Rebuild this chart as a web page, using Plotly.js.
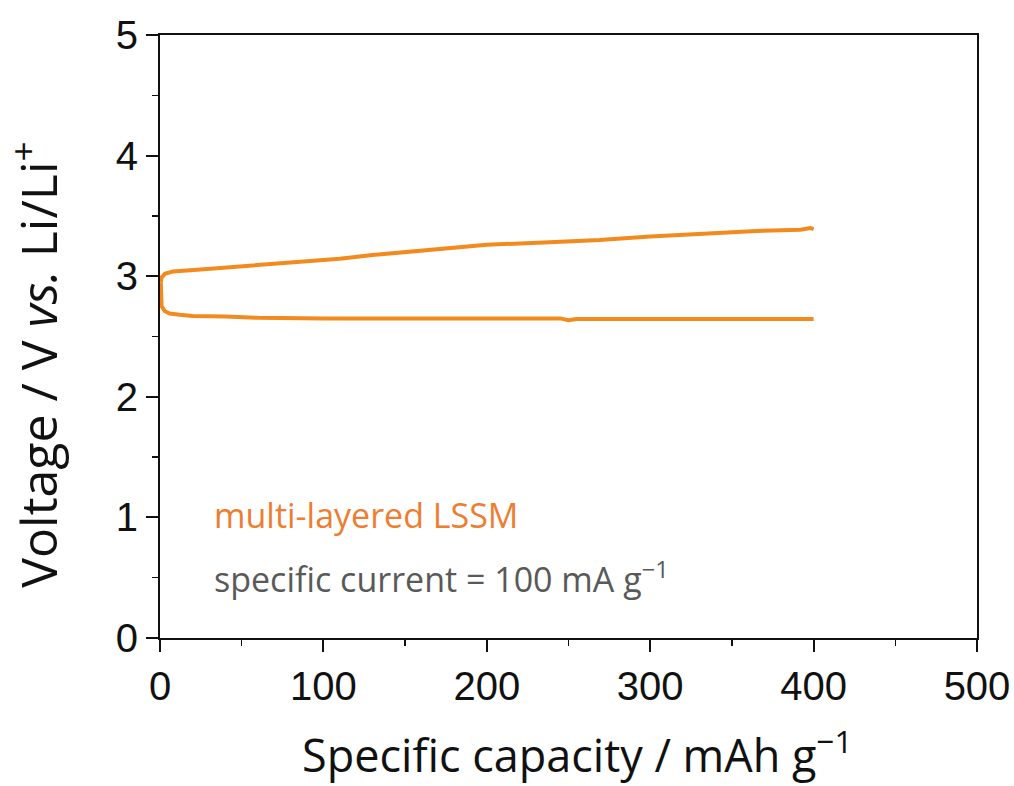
<!DOCTYPE html>
<html><head><meta charset="utf-8">
<script src="https://cdn.plot.ly/plotly-3.0.1.min.js"></script>
<style>body{margin:0;background:#fff}#c{width:1014px;height:786px}</style>
</head><body><div id="c"></div>
<script>
const dischargeCapacity = [0.5, 0.5, 1, 3, 6, 12, 20, 40, 60, 100, 150, 200, 245, 250, 255, 300, 350, 400];
const dischargeVoltage  = [2.95, 2.80, 2.75, 2.71, 2.69, 2.68, 2.67, 2.665, 2.655, 2.65, 2.65, 2.65, 2.65, 2.635, 2.645, 2.645, 2.645, 2.645];
const chargeCapacity = [0.5, 1, 3, 8, 29, 49, 69, 90, 110, 130, 151, 171, 200, 235, 269, 300, 343, 365, 392, 398, 400];
const chargeVoltage  = [2.95, 2.99, 3.02, 3.04, 3.06, 3.08, 3.10, 3.125, 3.145, 3.175, 3.20, 3.23, 3.26, 3.28, 3.30, 3.33, 3.36, 3.375, 3.385, 3.40, 3.39];
const xTicks = [0, 100, 200, 300, 400, 500];
const yTicks = [0, 1, 2, 3, 4, 5];
const xTitle = "Specific capacity / mAh g<sup>\u22121</sup>";
const yTitle = "Voltage / V <i>vs.</i> Li/Li<sup>+</sup>";
const sampleLabel = "multi-layered LSSM";
const currentLabel = "specific current = 100 mA g<sup>\u22121</sup>";

const lineColor = '#F28A1E';
const traces = [
  {x: dischargeCapacity, y: dischargeVoltage, mode: 'lines', line: {color: lineColor, width: 4}, hoverinfo: 'none'},
  {x: chargeCapacity, y: chargeVoltage, mode: 'lines', line: {color: lineColor, width: 4}, hoverinfo: 'none'}
];
const tickFont = {family: 'Liberation Sans, Arial, sans-serif', size: 40, color: '#111'};
const axisCommon = {
  showgrid: false, zeroline: false, showline: true, linecolor: '#111', linewidth: 2,
  mirror: true, ticks: 'outside', ticklen: 12, tickwidth: 2, tickcolor: '#111',
  tickfont: tickFont
};
const layout = {
  width: 1014, height: 786,
  margin: {l: 160, r: 37, t: 35, b: 148},
  paper_bgcolor: '#fff', plot_bgcolor: '#fff',
  showlegend: false,
  xaxis: Object.assign({}, axisCommon, {
    range: [0, 500], tickvals: xTicks, ticktext: xTicks.map(String),
    minor: {ticks: 'outside', ticklen: 6, tickwidth: 1.5, tickcolor: '#111', dtick: 50, tick0: 0}
  }),
  yaxis: Object.assign({}, axisCommon, {
    range: [0, 5], tickvals: yTicks, ticktext: yTicks.map(String),
    minor: {ticks: 'outside', ticklen: 6, tickwidth: 1.5, tickcolor: '#111', dtick: 0.5, tick0: 0}
  }),
  annotations: [
    {x: 0.5, y: 0, xref: 'paper', yref: 'paper', xanchor: 'center', yanchor: 'middle',
     xshift: 8, yshift: -114, showarrow: false,
     text: xTitle, font: {family: 'Open Sans, sans-serif', size: 45, color: '#111'}},
    {x: 0, y: 0.453, xref: 'paper', yref: 'paper', xanchor: 'center', yanchor: 'middle',
     xshift: -124, showarrow: false, textangle: -90,
     text: yTitle, font: {family: 'Open Sans, sans-serif', size: 50, color: '#111'}},
    {x: 32, y: 1.02, xref: 'x', yref: 'y', xanchor: 'left', yanchor: 'middle', showarrow: false,
     text: sampleLabel, font: {family: 'Open Sans, sans-serif', size: 34, color: '#EE7D31'}},
    {x: 32, y: 0.50, xref: 'x', yref: 'y', xanchor: 'left', yanchor: 'middle', showarrow: false,
     text: currentLabel, font: {family: 'Open Sans, sans-serif', size: 34, color: '#595959'}}
  ]
};
Plotly.newPlot('c', traces, layout, {staticPlot: true, displayModeBar: false});
</script>
</body></html>
